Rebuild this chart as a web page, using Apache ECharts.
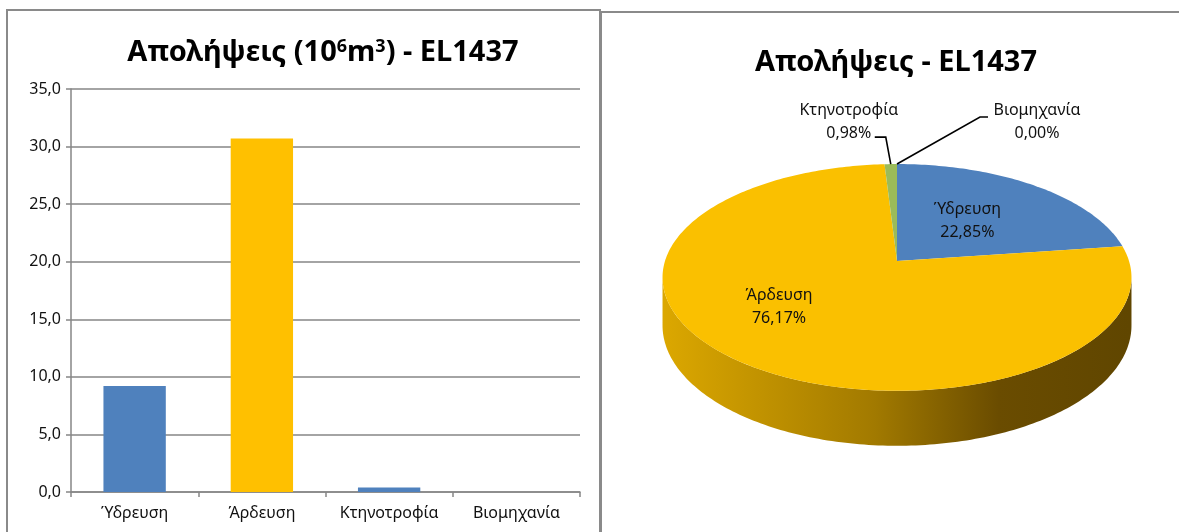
<!DOCTYPE html>
<html>
<head>
<meta charset="utf-8">
<script src="https://cdn.jsdelivr.net/npm/echarts@6/dist/echarts.min.js"></script>
<style>
html, body { margin: 0; padding: 0; background: #fff; }
#chart { width: 1179px; height: 532px; }
</style>
</head>
<body>
<div id="chart"></div>
<script>
// bar chart data (10^6 m3)
const categories = ['Ύδρευση', 'Άρδευση', 'Κτηνοτροφία', 'Βιομηχανία'];
const barValues = [9.2, 30.7, 0.4, 0.0];
const yMin = 0, yMax = 35, yStep = 5;

// pie data (%)
const pieNames = ['Ύδρευση', 'Άρδευση', 'Κτηνοτροφία', 'Βιομηχανία'];
const pieShares = [22.85, 76.17, 0.98, 0.00];

const FONT = '"Noto Sans", sans-serif';
const barColors = ['#4F81BD', '#FFC000', '#4F81BD', '#4F81BD'];
const sliceColors = ['#4F81BD', '#FAC000', '#9BBB59', '#8064A2'];
const sideStops = [
    [[0, '#35649c'], [1, '#1f3d62']],
    [[0, '#DBA700'], [0.45, '#A27A00'], [0.72, '#6A4C00'], [1, '#604600']],
    [[0, '#7d9a44'], [1, '#4d6128']],
    [[0, '#5f4a7d'], [1, '#3d2f52']]
];

// fake 3d pie: perspective ellipse
const pie = { cx: 897, cy: 261, a: 111, b: 232, k: 0.145, depth: 47 };
function proj(t, r) {
    const x = r * Math.sin(t), y = r * Math.cos(t);
    const s = 1 / (1 + pie.k * y);
    return [pie.cx + pie.b * x * s, pie.cy - pie.a * y * s];
}
function arc(t1, t2) {
    const n = Math.max(2, Math.ceil((t2 - t1) / (Math.PI / 180)));
    const pts = [];
    for (let j = 0; j <= n; j++) {
        const t = t1 + (t2 - t1) * j / n;
        pts.push({ t: t, p: proj(t, 1) });
    }
    return pts;
}
const sideFrom = Math.acos(-pie.k), sideTo = 2 * Math.PI - sideFrom;

const total = pieShares.reduce((s, v) => s + v, 0);
const bounds = [];
let acc = 0;
pieShares.forEach(v => {
    const s = acc / total * 2 * Math.PI;
    acc += v;
    bounds.push([s, acc / total * 2 * Math.PI]);
});

function pct(v) {
    return v.toFixed(2).replace('.', ',') + '%';
}

function renderSlice(params, api) {
    const i = params.dataIndex;
    const s = bounds[i][0], e = bounds[i][1];
    const children = [];
    if (e - s > 1e-6) {
        const a0 = Math.max(s, sideFrom), a1 = Math.min(e, sideTo);
        if (a1 > a0) {
            const top = arc(a0, a1);
            const upper = top.map(o => o.p);
            const lower = top.map(o => [o.p[0], o.p[1] + pie.depth / (1 + pie.k * Math.cos(o.t))]).reverse();
            children.push({
                type: 'polygon',
                shape: { points: upper.concat(lower) },
                style: {
                    fill: new echarts.graphic.LinearGradient(pie.cx - pie.b, 0, pie.cx + pie.b, 0,
                        sideStops[i].map(st => ({ offset: st[0], color: st[1] })), true)
                }
            });
        }
        children.push({
            type: 'polygon',
            shape: { points: [proj(0, 0)].concat(arc(s, e).map(o => o.p)) },
            style: { fill: sliceColors[i] }
        });
    }
    const mid = (s + e) / 2;
    const text = pieNames[i] + '\n' + pct(pieShares[i]);
    const txtStyle = { font: '16px ' + FONT, fill: '#111', align: 'center', verticalAlign: 'middle', lineHeight: 23 };
    if (pieShares[i] > 5) {
        const p = proj(mid, 0.5);
        const dx = i === 1 ? -40 : -2;
        children.push({ type: 'text', style: Object.assign({ text: text, x: p[0] + dx, y: p[1] }, txtStyle) });
    } else {
        const r = proj(mid, 1);
        const left = mid > Math.PI && mid < 2 * Math.PI - 1e-6;
        let pts, tx;
        if (left) {
            pts = [r, [r[0] - 5, r[1] - 27], [r[0] - 16, r[1] - 27]];
            tx = r[0] - 42;
        } else {
            pts = [r, [r[0] + 83, r[1] - 47], [r[0] + 91, r[1] - 47]];
            tx = r[0] + 140;
        }
        children.push({ type: 'polyline', shape: { points: pts }, style: { stroke: '#000', lineWidth: 1.6, fill: null } });
        children.push({ type: 'text', style: Object.assign({ text: text, x: tx, y: r[1] - 42 }, txtStyle) });
    }
    return { type: 'group', children: children };
}

const chart = echarts.init(document.getElementById('chart'));
const option = {
    backgroundColor: '#fff',
    animation: false,
    textStyle: { fontFamily: FONT },
    graphic: [
        { type: 'rect', shape: { x: 7, y: 10, width: 593, height: 560 }, style: { fill: null, stroke: '#8a8a8a', lineWidth: 2 } },
        { type: 'rect', shape: { x: 601, y: 12, width: 620, height: 560 }, style: { fill: null, stroke: '#8a8a8a', lineWidth: 2 } }
    ],
    title: [
        {
            text: 'Απολήψεις (10{sup|6}m{sup|3}) - EL1437',
            left: 318, top: 33, textAlign: 'center',
            textStyle: {
                fontSize: 29, fontWeight: 'bold', color: '#000', fontFamily: FONT,
                rich: { sup: { fontSize: 18, fontWeight: 'bold', color: '#000', fontFamily: FONT, verticalAlign: 'top' } }
            }
        },
        {
            text: 'Απολήψεις - EL1437',
            left: 891, top: 43, textAlign: 'center',
            textStyle: { fontSize: 29, fontWeight: 'bold', color: '#000', fontFamily: FONT }
        }
    ],
    grid: { left: 71, right: 599, top: 89, bottom: 40 },
    xAxis: {
        type: 'category',
        data: categories,
        axisLine: { lineStyle: { color: '#868686', width: 1.5 } },
        axisTick: { show: true, interval: 0, length: 5, lineStyle: { color: '#868686', width: 1.5 } },
        axisLabel: { interval: 0, color: '#111', fontSize: 16, fontFamily: FONT, margin: 13 }
    },
    yAxis: {
        type: 'value',
        min: yMin, max: yMax, interval: yStep,
        axisLine: { show: true, lineStyle: { color: '#868686', width: 1.5 } },
        axisTick: { show: true, length: 5, lineStyle: { color: '#868686', width: 1.5 } },
        splitLine: { lineStyle: { color: '#868686', width: 1.5 } },
        axisLabel: { color: '#111', fontSize: 16, fontFamily: FONT, margin: 10,
            formatter: v => v.toFixed(1).replace('.', ',') }
    },
    series: [
        {
            type: 'bar',
            barWidth: '49%',
            data: barValues.map((v, i) => ({ value: v, itemStyle: { color: barColors[i] } }))
        },
        {
            type: 'custom',
            coordinateSystem: 'none',
            renderItem: renderSlice,
            data: pieShares.map((v, i) => ({ name: pieNames[i], value: v }))
        }
    ]
};
chart.setOption(option);
</script>
</body>
</html>
